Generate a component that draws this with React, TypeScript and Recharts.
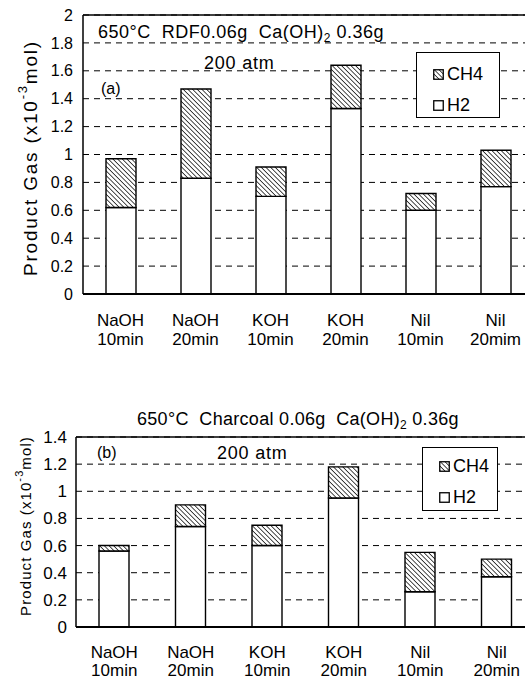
import { Bar, BarChart, CartesianGrid, Legend, ReferenceLine, XAxis, YAxis } from "recharts";

const catalysts = ["NaOH", "NaOH", "KOH", "KOH", "Nil", "Nil"];
const timesA = ["10min", "20min", "10min", "20min", "10min", "20mim"];
const timesB = ["10min", "20min", "10min", "20min", "10min", "20min"];

// (a) RDF 0.06g
const h2A = [0.62, 0.83, 0.7, 1.33, 0.6, 0.77];
const ch4A = [0.35, 0.64, 0.21, 0.31, 0.12, 0.26];
// (b) Charcoal 0.06g
const h2B = [0.56, 0.74, 0.6, 0.95, 0.26, 0.37];
const ch4B = [0.04, 0.16, 0.15, 0.23, 0.29, 0.13];

const ticksA = [0, 0.2, 0.4, 0.6, 0.8, 1, 1.2, 1.4, 1.6, 1.8, 2];
const ticksB = [0, 0.2, 0.4, 0.6, 0.8, 1, 1.2, 1.4];

const FONT = "'Liberation Sans', Arial, sans-serif";

const dataA = catalysts.map((c, i) => ({ name: `${c}|${timesA[i]}`, H2: h2A[i], CH4: ch4A[i] }));
const dataB = catalysts.map((c, i) => ({ name: `${c}|${timesB[i]}`, H2: h2B[i], CH4: ch4B[i] }));

function TwoLineTick(props: any) {
  const { x, y, payload, d1, d2 } = props;
  const [a, b] = String(payload.value).split("|");
  return (
    <text x={x} y={y} textAnchor="middle" fontSize={17} fontFamily={FONT} fill="#000">
      <tspan x={x} dy={d1}>{a}</tspan>
      <tspan x={x} dy={d2}>{b}</tspan>
    </text>
  );
}

function LegendBox(props: any) {
  const { t1, t2 } = props;
  const row = (label: string, fill: string, top: number) => (
    <div style={{ position: "absolute", left: 16, top, height: 20, display: "flex", alignItems: "center" }}>
      <svg width={11} height={11} style={{ marginRight: 3, display: "block" }}>
        <rect x={0.75} y={0.75} width={9.5} height={9.5} fill={fill} stroke="#000" strokeWidth={1.3} />
      </svg>
      <span style={{ fontSize: 18, fontFamily: FONT, lineHeight: "20px", color: "#000" }}>{label}</span>
    </div>
  );
  return (
    <div
      style={{
        position: "relative",
        width: "100%",
        height: "100%",
        boxSizing: "border-box",
        border: "1.8px solid #000",
        background: "#fff",
      }}
    >
      {row("CH4", "url(#hatch)", t1)}
      {row("H2", "#fff", t2)}
    </div>
  );
}

function Hatch() {
  return (
    <defs>
      <pattern id="hatch" patternUnits="userSpaceOnUse" width={3.3} height={3.3} patternTransform="rotate(-45)">
        <rect width={3.3} height={3.3} fill="#fff" />
        <line x1={0} y1={0} x2={0} y2={3.3} stroke="#000" strokeWidth={1.4} />
      </pattern>
    </defs>
  );
}

// the legend box reserves its own width on the right, so the charts are widened by it
const LEG_A = 84;
const LEG_B = 76;

export default function App() {
  return (
    <div
      style={{
        position: "absolute",
        left: 0,
        top: 0,
        width: 525,
        height: 679,
        overflow: "hidden",
        background: "#fff",
        fontFamily: FONT,
      }}
    >
      <div style={{ position: "absolute", left: 0, top: 0 }}>
        <BarChart width={560 + LEG_A} height={350} data={dataA} margin={{ top: 15, right: 27, left: 0, bottom: 0 }}>
          <Hatch />
          <CartesianGrid vertical={false} stroke="#000" strokeDasharray="6 5" strokeWidth={1} />
          <XAxis
            dataKey="name"
            height={56}
            interval={0}
            tickLine={false}
            axisLine={{ stroke: "#000", strokeWidth: 2 }}
            tick={<TwoLineTick d1={24} d2={19} />}
          />
          <YAxis
            width={83}
            domain={[0, 2]}
            ticks={ticksA}
            interval={0}
            tickLine={false}
            tickSize={8}
            tickMargin={2}
            axisLine={{ stroke: "#000", strokeWidth: 1.5 }}
            tick={{ fontSize: 16, fill: "#000", fontFamily: FONT }}
          />
          <ReferenceLine y={2} stroke="#000" strokeWidth={1.5} />
          <Legend
            layout="horizontal"
            verticalAlign="middle"
            align="right"
            content={<LegendBox t1={11} t2={42} />}
            wrapperStyle={{ position: "absolute", left: 416, top: 52, width: LEG_A, height: 66 }}
          />
          <Bar dataKey="H2" stackId="s" barSize={30} fill="#fff" stroke="#000" strokeWidth={1.4} isAnimationActive={false} />
          <Bar dataKey="CH4" stackId="s" barSize={30} fill="url(#hatch)" stroke="#000" strokeWidth={1.4} isAnimationActive={false} />
        </BarChart>
      </div>

      <div style={{ position: "absolute", left: 0, top: 400 }}>
        <BarChart width={560 + LEG_B} height={279} data={dataB} margin={{ top: 37, right: 25, left: 0, bottom: 0 }}>
          <CartesianGrid vertical={false} stroke="#000" strokeDasharray="6 5" strokeWidth={1} />
          <XAxis
            dataKey="name"
            height={52}
            interval={0}
            tickLine={false}
            axisLine={{ stroke: "#000", strokeWidth: 2 }}
            tick={<TwoLineTick d1={23} d2={18} />}
          />
          <YAxis
            width={76}
            domain={[0, 1.4]}
            ticks={ticksB}
            interval={0}
            tickLine={false}
            tickSize={7}
            tickMargin={2}
            axisLine={{ stroke: "#000", strokeWidth: 1.5 }}
            tick={{ fontSize: 17, fill: "#000", fontFamily: FONT }}
          />
          <ReferenceLine y={1.4} stroke="#000" strokeWidth={1.5} />
          <Legend
            layout="horizontal"
            verticalAlign="middle"
            align="right"
            content={<LegendBox t1={8} t2={39} />}
            wrapperStyle={{ position: "absolute", left: 422, top: 47, width: LEG_B, height: 64 }}
          />
          <Bar dataKey="H2" stackId="s" barSize={30} fill="#fff" stroke="#000" strokeWidth={1.4} isAnimationActive={false} />
          <Bar dataKey="CH4" stackId="s" barSize={30} fill="url(#hatch)" stroke="#000" strokeWidth={1.4} isAnimationActive={false} />
        </BarChart>
      </div>

      {/* annotations */}
      <svg
        width={525}
        height={679}
        style={{ position: "absolute", left: 0, top: 0, pointerEvents: "none" }}
        fontFamily={FONT}
      >
        <text x={30} y={158} fontSize={19} letterSpacing={1.8} textAnchor="middle" dominantBaseline="central" transform="rotate(-90 30 158)">
          Product Gas (x10<tspan fontSize={13} dy={-8}>-3</tspan><tspan dy={8}>mol)</tspan>
        </text>
        <text x={98} y={38} fontSize={18} letterSpacing={0.5} style={{ whiteSpace: "pre" }}>
          650°C  RDF0.06g  Ca(OH)<tspan fontSize={12} dy={4}>2</tspan><tspan dy={-4}> 0.36g</tspan>
        </text>
        <text x={204} y={69} fontSize={18} letterSpacing={0.8}>200 atm</text>
        <text x={101} y={94} fontSize={16}>(a)</text>

        <text x={25} y={526} fontSize={15} letterSpacing={1.1} textAnchor="middle" dominantBaseline="central" transform="rotate(-90 25 526)">
          Product Gas (x10<tspan fontSize={11} dy={-6}>-3</tspan><tspan dy={6}>mol)</tspan>
        </text>
        <text x={137} y={425} fontSize={18} letterSpacing={0.3} style={{ whiteSpace: "pre" }}>
          650°C  Charcoal 0.06g  Ca(OH)<tspan fontSize={12} dy={4}>2</tspan><tspan dy={-4}> 0.36g</tspan>
        </text>
        <text x={217} y={459} fontSize={18} letterSpacing={0.8}>200 atm</text>
        <text x={97} y={458} fontSize={16}>(b)</text>
      </svg>
    </div>
  );
}
